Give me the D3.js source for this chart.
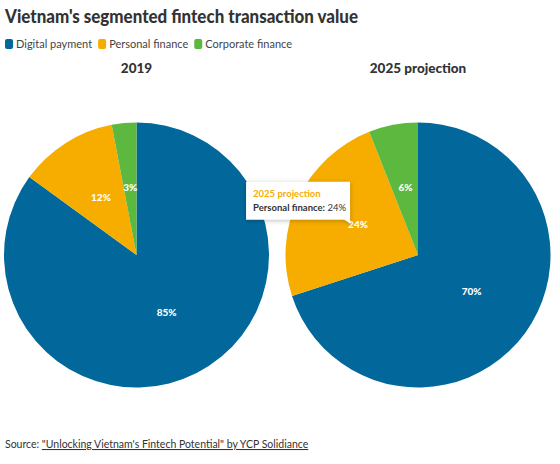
<!DOCTYPE html>
<html>
<head>
<meta charset="utf-8">
<script src="https://cdn.jsdelivr.net/npm/d3@7"></script>
<style>
  body { margin: 0; background: #fff; }
  svg { display: block; font-family: Lato, "Noto Sans", sans-serif; }
</style>
</head>
<body>
<svg id="chart" width="560" height="464"></svg>
<script>
const categories = ["Digital payment", "Personal finance", "Corporate finance"];
const years = ["2019", "2025 projection"];
const values2019 = [85, 12, 3];
const values2025 = [70, 24, 6];
const colors = ["#02689b", "#f6ad00", "#5cb83e"];

const width = 560, height = 464;
const radius = 132.5;
const centers = [136.5, 418];
const cy = 255;

const svg = d3.select("#chart");

const color = d3.scaleOrdinal().domain(categories).range(colors);

// title
svg.append("text")
    .attr("x", 5)
    .attr("y", 23)
    .attr("fill", "#333")
    .attr("font-size", 18.5)
    .attr("font-weight", 900)
    .attr("textLength", 353)
    .attr("lengthAdjust", "spacingAndGlyphs")
    .text("Vietnam's segmented fintech transaction value");

// legend
const legend = svg.append("g").attr("transform", "translate(5,39)");
let lx = 0;
categories.forEach(function(c) {
  const item = legend.append("g").attr("transform", "translate(" + lx + ",0)");
  item.append("rect")
      .attr("width", 8).attr("height", 10)
      .attr("rx", 2)
      .attr("fill", color(c));
  const t = item.append("text")
      .attr("x", 11)
      .attr("y", 9)
      .attr("font-size", 11)
      .attr("fill", "#444")
      .text(c);
  lx += 11 + t.node().getComputedTextLength() + 6;
});

const pie = d3.pie().sort(null).value(function(d) { return d.value; });
const arc = d3.arc().innerRadius(0).outerRadius(radius);

const series = [values2019, values2025];
const arcsByYear = [];

series.forEach(function(vals, i) {
  const data = vals.map(function(v, j) { return { cat: categories[j], value: v }; });
  const g = svg.append("g").attr("transform", "translate(" + centers[i] + "," + cy + ")");

  g.append("text")
      .attr("y", -radius - 50)
      .attr("text-anchor", "middle")
      .attr("font-size", 13.5)
      .attr("font-weight", 900)
      .attr("fill", "#333")
      .text(years[i]);

  const arcs = pie(data);
  arcsByYear.push(arcs);

  g.selectAll("path")
    .data(arcs)
    .join("path")
      .attr("d", arc)
      .attr("fill", function(d) { return color(d.data.cat); });

  g.selectAll("text.lbl")
    .data(arcs)
    .join("text")
      .attr("class", "lbl")
      .attr("transform", function(d) { return "translate(" + arc.centroid(d) + ")"; })
      .attr("text-anchor", "middle")
      .attr("dy", "0.15em")
      .attr("font-size", 10)
      .attr("font-weight", 900)
      .attr("fill", "#fff")
      .text(function(d) { return d.data.value + "%"; });
});

// tooltip on 2025 personal finance
const hov = arcsByYear[1][1];
const c = arc.centroid(hov);
const tipX = centers[1] + c[0] - 8, tipY = cy + c[1] - 3;
const tw = 104, th = 38;
const tip = svg.append("g").attr("transform", "translate(" + (tipX - tw) + "," + (tipY - th - 4) + ")");
tip.append("path")
    .attr("d", "M0,0H" + tw + "V" + th + "L" + (tw + 1) + "," + (th + 4) + "L" + (tw - 6) + "," + th + "H0Z")
    .attr("fill", "#fff")
    .style("filter", "drop-shadow(0 1px 2px rgba(0,0,0,0.25))");
tip.append("text")
    .attr("x", 7).attr("y", 15)
    .attr("font-size", 9.5)
    .attr("font-weight", 700)
    .attr("fill", color(hov.data.cat))
    .text(years[1]);
const t2 = tip.append("text")
    .attr("x", 7).attr("y", 29)
    .attr("font-size", 9.5)
    .attr("fill", "#333");
t2.append("tspan").attr("font-weight", 700).text(hov.data.cat + ":");
t2.append("tspan").text(" " + hov.data.value + "%");

// source
const src = svg.append("text")
    .attr("x", 5)
    .attr("y", 448)
    .attr("font-size", 10.5)
    .attr("fill", "#333");
src.append("tspan").text("Source: ");
src.append("tspan")
    .attr("text-decoration", "underline")
    .text("\"Unlocking Vietnam's Fintech Potential\" by YCP Solidiance");
</script>
</body>
</html>
